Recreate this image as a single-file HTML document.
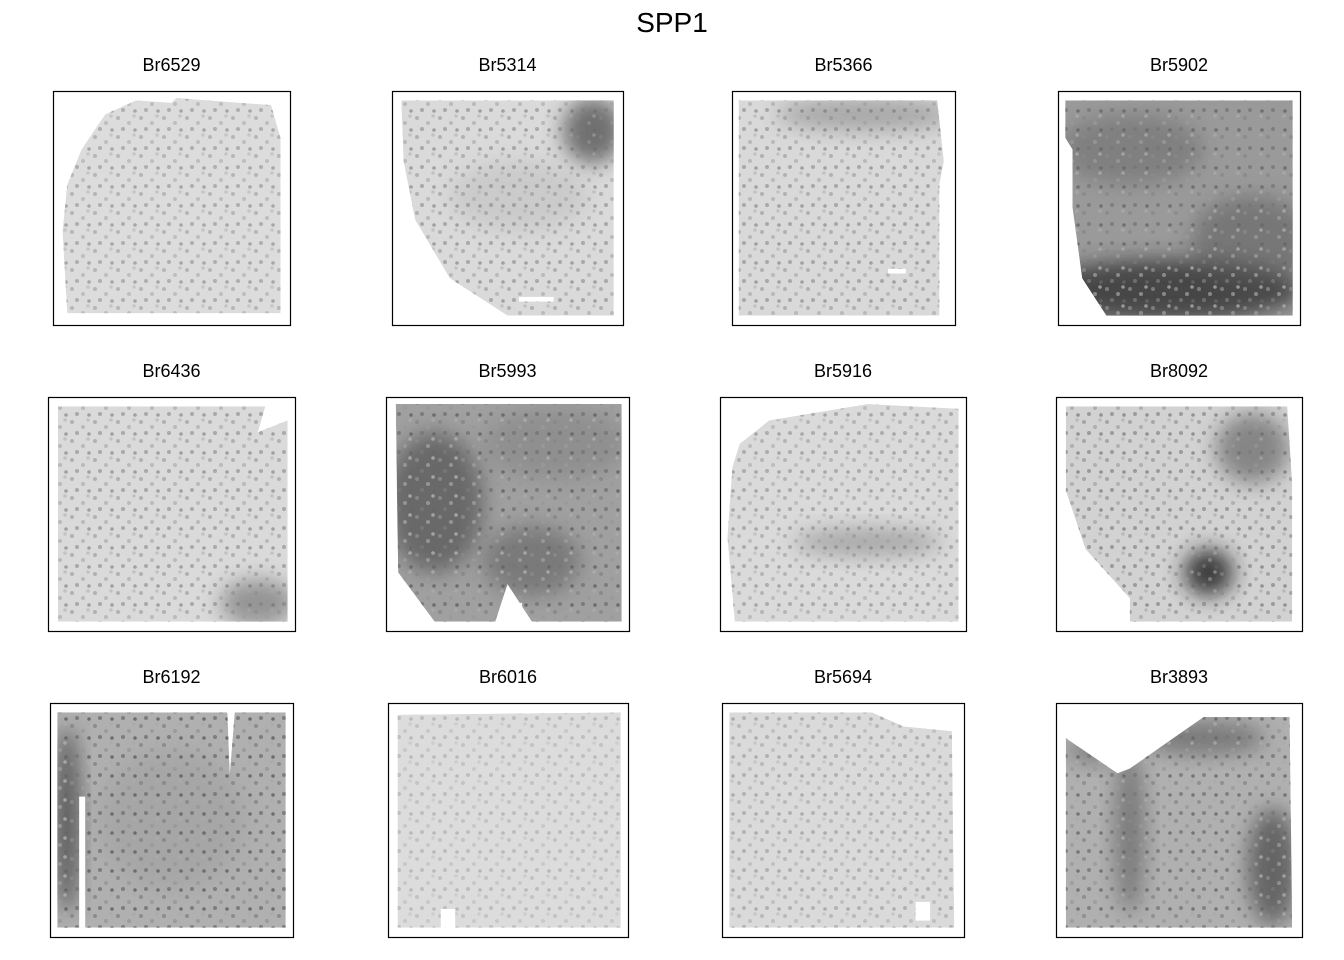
<!DOCTYPE html>
<html><head><meta charset="utf-8"><style>
body{margin:0;background:#fff;}
svg{display:block;font-family:"Liberation Sans",Arial,sans-serif;}
</style></head><body>
<svg id="fig" width="1344" height="960">
<defs>
<filter id="blur" x="-50%" y="-50%" width="200%" height="200%"><feGaussianBlur stdDeviation="10"/></filter>
<pattern id="speck" width="23" height="19" patternUnits="userSpaceOnUse">
<circle cx="3" cy="4" r="2" fill="#888"/><circle cx="14" cy="9" r="2" fill="#999"/>
<circle cx="8" cy="15" r="2" fill="#777"/><circle cx="19" cy="2" r="1.8" fill="#aaa"/>
<circle cx="20" cy="16" r="1.8" fill="#666"/>
</pattern>
</defs>
<text x="672" y="32" text-anchor="middle" font-size="28" fill="#000">SPP1</text>
</svg>
<script>
const sampleNames=["Br6529","Br5314","Br5366","Br5902","Br6436","Br5993","Br5916","Br8092","Br6192","Br6016","Br5694","Br3893"];
const boxes=[[53,91,237,234],[392,91,231,234],[732,91,223,234],[1058,91,242,234],
[48,397,247,234],[386,397,243,234],[720,397,246,234],[1056,397,246,234],
[50,703,243,234],[388,703,240,234],[722,703,242,234],[1056,703,246,234]];
const tissues=[
[[0.35,0.04],[0.5,0.05],[0.52,0.03],[0.92,0.06],[0.96,0.2],[0.96,0.95],[0.06,0.95],[0.04,0.6],[0.06,0.4],[0.12,0.25],[0.22,0.1]],
[[0.04,0.04],[0.96,0.04],[0.96,0.96],[0.5,0.96],[0.25,0.8],[0.1,0.55],[0.05,0.3]],
[[0.03,0.04],[0.92,0.04],[0.95,0.3],[0.93,0.4],[0.93,0.96],[0.03,0.96]],
[[0.03,0.04],[0.97,0.04],[0.97,0.96],[0.2,0.96],[0.1,0.8],[0.06,0.5],[0.06,0.25],[0.03,0.2]],
[[0.04,0.04],[0.88,0.04],[0.85,0.15],[0.97,0.1],[0.97,0.96],[0.04,0.96]],
[[0.04,0.03],[0.97,0.03],[0.97,0.96],[0.6,0.96],[0.5,0.8],[0.45,0.96],[0.2,0.96],[0.05,0.75]],
[[0.2,0.1],[0.6,0.03],[0.97,0.05],[0.97,0.96],[0.06,0.96],[0.03,0.6],[0.05,0.3],[0.08,0.2]],
[[0.04,0.04],[0.94,0.04],[0.96,0.37],[0.96,0.96],[0.3,0.96],[0.3,0.86],[0.12,0.65],[0.04,0.4]],
[[0.03,0.04],[0.73,0.04],[0.74,0.3],[0.76,0.04],[0.97,0.04],[0.97,0.96],[0.03,0.96]],
[[0.04,0.05],[0.97,0.04],[0.97,0.96],[0.04,0.96]],
[[0.03,0.04],[0.62,0.04],[0.75,0.1],[0.95,0.12],[0.96,0.96],[0.03,0.96]],
[[0.04,0.15],[0.25,0.3],[0.3,0.28],[0.6,0.06],[0.95,0.06],[0.96,0.96],[0.04,0.96]]];
const baseGray=["#dcdcdc","#dadada","#d9d9d9","#9a9a9a","#dadada","#a0a0a0","#dadada","#d2d2d2","#b0b0b0","#dcdcdc","#dadada","#b0b0b0"];
const speckOpacity=[0.45,0.5,0.5,0.8,0.5,0.9,0.45,0.6,0.9,0.3,0.4,0.8];
const blobs=[[],
[[0.87,0.17,0.13,0.14,"#555",0.8],[0.55,0.45,0.3,0.15,"#bbb",0.5]],
[[0.6,0.1,0.4,0.07,"#777",0.5]],
[[0.45,0.85,0.55,0.13,"#333",0.8],[0.3,0.25,0.3,0.15,"#666",0.5],[0.8,0.65,0.25,0.2,"#555",0.5]],
[[0.85,0.88,0.15,0.1,"#666",0.6]],
[[0.2,0.45,0.2,0.3,"#444",0.6],[0.6,0.7,0.2,0.15,"#555",0.5],[0.7,0.2,0.3,0.15,"#777",0.4]],
[[0.6,0.62,0.3,0.06,"#777",0.5]],
[[0.8,0.22,0.15,0.15,"#666",0.7],[0.62,0.75,0.1,0.1,"#222",0.85]],
[[0.07,0.5,0.05,0.4,"#333",0.7],[0.5,0.5,0.3,0.3,"#999",0.4]],
[],
[],
[[0.88,0.7,0.1,0.25,"#444",0.7],[0.3,0.55,0.06,0.35,"#555",0.6],[0.6,0.15,0.25,0.07,"#555",0.6],[0.15,0.2,0.1,0.06,"#555",0.5]]];
const gaps=[[],[[0.55,0.88,0.15,0.02]],[[0.7,0.76,0.08,0.02]],[],[],[[0.5,0.88,0.06,0.06]],[],[],[[0.12,0.4,0.025,0.56]],[[0.22,0.88,0.06,0.08]],[[0.8,0.85,0.06,0.08]],[]];
const NS="http://www.w3.org/2000/svg";
const svg=document.getElementById("fig");
function mk(t,a){const e=document.createElementNS(NS,t);for(const k in a)e.setAttribute(k,a[k]);return e;}
sampleNames.forEach((nm,i)=>{
  const [bx,by,bw,bh]=boxes[i];
  const sx=f=>bx+f*bw, sy=f=>by+f*bh;
  const g=mk("g",{});
  
  
  const t=mk("text",{x:bx+bw/2,y:by-20,"text-anchor":"middle","font-size":"18",fill:"#000"});
  t.textContent=nm;
  
  
  g.appendChild(t);
  const cp=mk("clipPath",{id:"cp"+i});
  const pts=tissues[i].map(p=>sx(p[0])+","+sy(p[1])).join(" ");
  cp.appendChild(mk("polygon",{points:pts}));
  g.appendChild(cp);
  const inner=mk("g",{"clip-path":"url(#cp"+i+")"});
  const base=mk("polygon",{points:pts,fill:baseGray[i]});
  
  
  inner.appendChild(base);
  blobs[i].forEach(b=>{
    const e=mk("ellipse",{cx:sx(b[0]),cy:sy(b[1]),rx:b[2]*bw,ry:b[3]*bh,fill:b[4],opacity:b[5],filter:"url(#blur)"});
    
    
    inner.appendChild(e);
  });
  const sp=mk("rect",{x:bx,y:by,width:bw,height:bh,fill:"url(#speck)",opacity:speckOpacity[i]});
  
  
  inner.appendChild(sp);
  gaps[i].forEach(q=>{
    const r=mk("rect",{x:sx(q[0]),y:sy(q[1]),width:q[2]*bw,height:q[3]*bh,fill:"#fff"});
    
    
    inner.appendChild(r);
  });
  g.appendChild(inner);
  const fr=mk("rect",{x:bx+0.5,y:by+0.5,width:bw,height:bh,fill:"none",stroke:"#000","stroke-width":"1.2"});
  
  
  g.appendChild(fr);
  svg.appendChild(g);
});
</script>
</body></html>
